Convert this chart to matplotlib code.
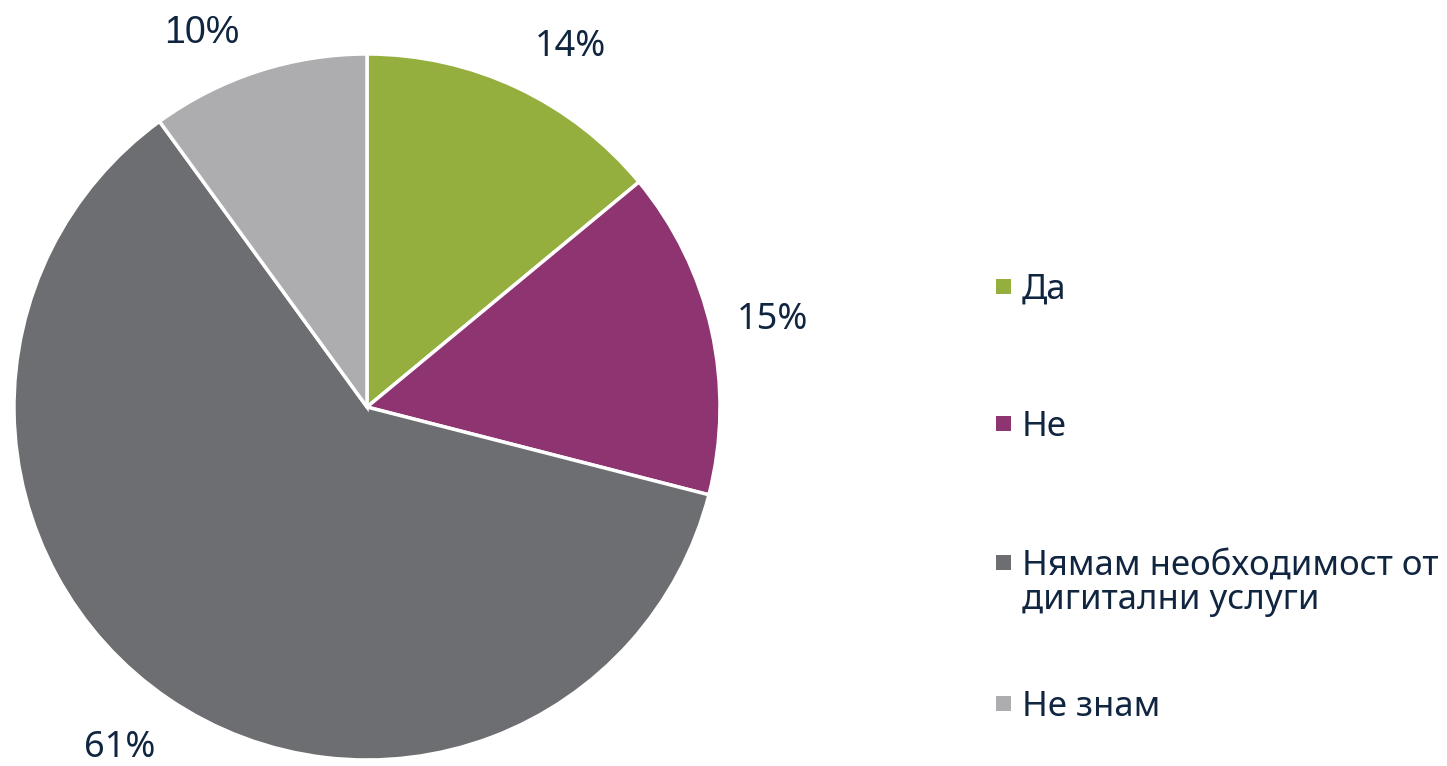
"""
Pie chart: need for digital services (Bulgarian survey answers).
"""

import matplotlib
matplotlib.use('Agg')
import matplotlib.pyplot as plt
from matplotlib.patches import Rectangle

# Survey answers and shares (%)
categories = ['Да', 'Не', 'Нямам необходимост от\nдигитални услуги', 'Не знам']
shares = [14, 15, 61, 10]
colors = ['#94AF3E', '#8E3470', '#6D6E71', '#ADADAF']

text_color = '#10253F'
main_font = 'Noto Sans'

W, H = 1447, 766
fig = plt.figure(figsize=(W / 100, H / 100), dpi=100)
ax = fig.add_axes([0, 0, 1, 1])

# Pie in pixel-like data units: center (367, 407 from top), radius 353
wedges, texts, autotexts = ax.pie(
    shares,
    colors=colors,
    startangle=90,
    counterclock=False,
    center=(367, H - 407),
    radius=353,
    autopct=lambda p: f'{p:.0f}%',
    pctdistance=1.17,
    wedgeprops=dict(edgecolor='white', linewidth=2.5),
    frame=True,
)
ax.set_xlim(0, W)
ax.set_ylim(0, H)
ax.set_aspect('equal')
ax.axis('off')

# percentage labels, nudged to sit clear of the wedges
label_pos = [(570, 47), (773, 320), (120, 748), (202, 33)]
for t, (x, y) in zip(autotexts, label_pos):
    t.set_position((x, H - y))
    t.set_fontsize(26)
    t.set_color(text_color)
    t.set_fontfamily(main_font)
# the last label uses a different typeface
autotexts[-1].set_fontfamily('Liberation Sans')
autotexts[-1].set_fontsize(27)

# Legend drawn by hand: square marker + label, baselines in pixels from top
baselines = [299, 436, 575, 716]
line_step = 34
for label, color, base in zip(categories, colors, baselines):
    y = H - base
    ax.add_patch(Rectangle((996, y + 5), 15, 15, facecolor=color,
                           edgecolor='none'))
    for i, line in enumerate(label.split('\n')):
        ax.text(1022, y - i * line_step, line, fontsize=25, color=text_color,
                va='baseline', ha='left', family=main_font)

fig.savefig('out.png', dpi=100)
